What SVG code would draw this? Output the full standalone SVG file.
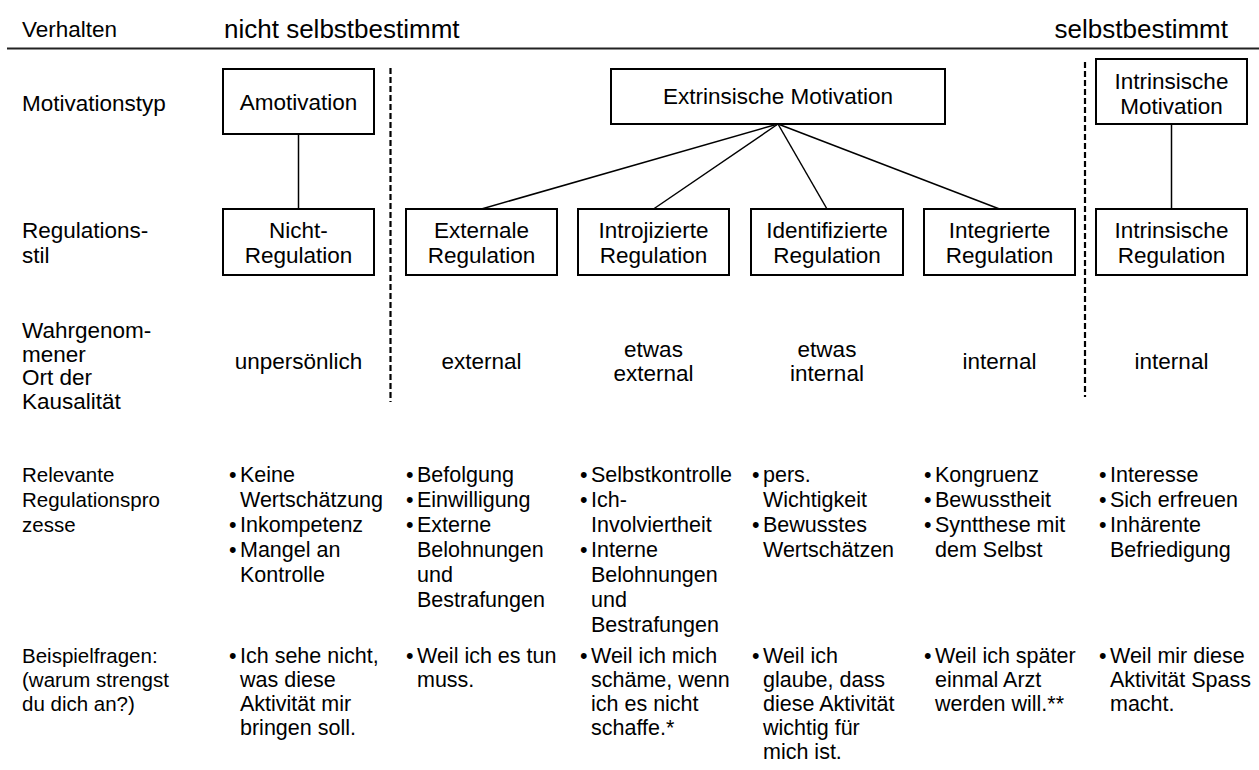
<svg xmlns="http://www.w3.org/2000/svg" width="1259" height="770" viewBox="0 0 1259 770">
<style>
text{font-family:"Liberation Sans",Arial,sans-serif;fill:#000}
.t{font-size:22.5px}
.s{font-size:21.5px}
.l{font-size:20.5px}
.h{font-size:26px}
.c{text-anchor:middle}
.e{text-anchor:end}
.box{fill:#fff;stroke:#000;stroke-width:2}
.ln{stroke:#000;stroke-width:1.5;fill:none}
.dash{stroke:#000;stroke-width:2.2;stroke-dasharray:6 3;fill:none}
</style>
<rect width="1259" height="770" fill="#fff"/>
<g id="header">
<text class="t" x="22" y="37">Verhalten</text>
<text class="h" x="224" y="38">nicht selbstbestimmt</text>
<text class="h e" x="1228" y="38">selbstbestimmt</text>
<line x1="7" y1="48.5" x2="1259" y2="48.5" stroke="#222" stroke-width="1.8"/>
</g>
<g id="dividers">
<line class="dash" x1="390.5" y1="68" x2="390.5" y2="402"/>
<line class="dash" x1="1085" y1="62" x2="1085" y2="397"/>
</g>
<g id="connectors">
<line class="ln" x1="298.5" y1="134" x2="298.5" y2="209"/>
<line class="ln" x1="778" y1="124" x2="481.5" y2="209"/>
<line class="ln" x1="778" y1="124" x2="653.5" y2="209"/>
<line class="ln" x1="778" y1="124" x2="827" y2="209"/>
<line class="ln" x1="778" y1="124" x2="999.5" y2="209"/>
<line class="ln" x1="1171.5" y1="124" x2="1171.5" y2="209"/>
</g>
<g id="label-motivationstyp"><text class="t" x="22" y="111">Motivationstyp</text></g>
<g id="label-regulationsstil"><text class="t"><tspan x="22" y="238">Regulations-</tspan><tspan x="22" y="263">stil</tspan></text></g>
<g id="label-ort"><text class="t"><tspan x="22" y="338">Wahrgenom-</tspan><tspan x="22" y="361.5">mener</tspan><tspan x="22" y="385">Ort der</tspan><tspan x="22" y="408.5">Kausalität</tspan></text></g>
<g id="label-prozesse"><text class="l"><tspan x="22" y="482">Relevante</tspan><tspan x="22" y="507">Regulationspro</tspan><tspan x="22" y="532">zesse</tspan></text></g>
<g id="label-beispiel"><text class="l"><tspan x="22" y="663">Beispielfragen:</tspan><tspan x="22" y="687">(warum strengst</tspan><tspan x="22" y="711">du dich an?)</tspan></text></g>

<g id="amotivation"><rect class="box" x="223" y="69" width="151" height="65"/><text class="t c" x="298.5" y="110">Amotivation</text></g>
<g id="extrinsische-motivation"><rect class="box" x="611" y="69" width="334" height="55"/><text class="t c" x="778" y="104">Extrinsische Motivation</text></g>
<g id="intrinsische-motivation"><rect class="box" x="1096" y="59" width="151" height="65"/><text class="t c"><tspan x="1171.5" y="88.5">Intrinsische</tspan><tspan x="1171.5" y="113.5">Motivation</tspan></text></g>

<g id="nicht-regulation"><rect class="box" x="223" y="209" width="151" height="66"/><text class="t c"><tspan x="298.5" y="238">Nicht-</tspan><tspan x="298.5" y="263">Regulation</tspan></text></g>
<g id="externale-regulation"><rect class="box" x="406" y="209" width="151" height="66"/><text class="t c"><tspan x="481.5" y="238">Externale</tspan><tspan x="481.5" y="263">Regulation</tspan></text></g>
<g id="introjizierte-regulation"><rect class="box" x="578" y="209" width="151" height="66"/><text class="t c"><tspan x="653.5" y="238">Introjizierte</tspan><tspan x="653.5" y="263">Regulation</tspan></text></g>
<g id="identifizierte-regulation"><rect class="box" x="751" y="209" width="152" height="66"/><text class="t c"><tspan x="827" y="238">Identifizierte</tspan><tspan x="827" y="263">Regulation</tspan></text></g>
<g id="integrierte-regulation"><rect class="box" x="924" y="209" width="151" height="66"/><text class="t c"><tspan x="999.5" y="238">Integrierte</tspan><tspan x="999.5" y="263">Regulation</tspan></text></g>
<g id="intrinsische-regulation"><rect class="box" x="1096" y="209" width="151" height="66"/><text class="t c"><tspan x="1171.5" y="238">Intrinsische</tspan><tspan x="1171.5" y="263">Regulation</tspan></text></g>

<g id="ort">
<text class="t c" x="298.5" y="369">unpersönlich</text>
<text class="t c" x="481.5" y="369">external</text>
<text class="t c"><tspan x="653.5" y="356.5">etwas</tspan><tspan x="653.5" y="381">external</tspan></text>
<text class="t c"><tspan x="827" y="356.5">etwas</tspan><tspan x="827" y="381">internal</tspan></text>
<text class="t c" x="999.5" y="369">internal</text>
<text class="t c" x="1171.5" y="369">internal</text>
</g>

<g id="prozesse">
<text class="s"><tspan x="229" y="482">•</tspan><tspan x="240">Keine</tspan><tspan x="240" y="507">Wertschätzung</tspan><tspan x="229" y="532">•</tspan><tspan x="240">Inkompetenz</tspan><tspan x="229" y="557">•</tspan><tspan x="240">Mangel an</tspan><tspan x="240" y="582">Kontrolle</tspan></text>
<text class="s"><tspan x="406" y="482">•</tspan><tspan x="417">Befolgung</tspan><tspan x="406" y="507">•</tspan><tspan x="417">Einwilligung</tspan><tspan x="406" y="532">•</tspan><tspan x="417">Externe</tspan><tspan x="417" y="557">Belohnungen</tspan><tspan x="417" y="582">und</tspan><tspan x="417" y="607">Bestrafungen</tspan></text>
<text class="s"><tspan x="580" y="482">•</tspan><tspan x="591">Selbstkontrolle</tspan><tspan x="580" y="507">•</tspan><tspan x="591">Ich-</tspan><tspan x="591" y="532">Involviertheit</tspan><tspan x="580" y="557">•</tspan><tspan x="591">Interne</tspan><tspan x="591" y="582">Belohnungen</tspan><tspan x="591" y="607">und</tspan><tspan x="591" y="632">Bestrafungen</tspan></text>
<text class="s"><tspan x="752" y="482">•</tspan><tspan x="763">pers.</tspan><tspan x="763" y="507">Wichtigkeit</tspan><tspan x="752" y="532">•</tspan><tspan x="763">Bewusstes</tspan><tspan x="763" y="557">Wertschätzen</tspan></text>
<text class="s"><tspan x="924" y="482">•</tspan><tspan x="935">Kongruenz</tspan><tspan x="924" y="507">•</tspan><tspan x="935">Bewusstheit</tspan><tspan x="924" y="532">•</tspan><tspan x="935">Syntthese mit</tspan><tspan x="935" y="557">dem Selbst</tspan></text>
<text class="s"><tspan x="1099" y="482">•</tspan><tspan x="1110">Interesse</tspan><tspan x="1099" y="507">•</tspan><tspan x="1110">Sich erfreuen</tspan><tspan x="1099" y="532">•</tspan><tspan x="1110">Inhärente</tspan><tspan x="1110" y="557">Befriedigung</tspan></text>
</g>

<g id="beispiele">
<text class="s"><tspan x="229" y="663">•</tspan><tspan x="240">Ich sehe nicht,</tspan><tspan x="240" y="687">was diese</tspan><tspan x="240" y="711">Aktivität mir</tspan><tspan x="240" y="735">bringen soll.</tspan></text>
<text class="s"><tspan x="406" y="663">•</tspan><tspan x="417">Weil ich es tun</tspan><tspan x="417" y="687">muss.</tspan></text>
<text class="s"><tspan x="580" y="663">•</tspan><tspan x="591">Weil ich mich</tspan><tspan x="591" y="687">schäme, wenn</tspan><tspan x="591" y="711">ich es nicht</tspan><tspan x="591" y="735">schaffe.*</tspan></text>
<text class="s"><tspan x="752" y="663">•</tspan><tspan x="763">Weil ich</tspan><tspan x="763" y="687">glaube, dass</tspan><tspan x="763" y="711">diese Aktivität</tspan><tspan x="763" y="735">wichtig für</tspan><tspan x="763" y="759">mich ist.</tspan></text>
<text class="s"><tspan x="924" y="663">•</tspan><tspan x="935">Weil ich später</tspan><tspan x="935" y="687">einmal Arzt</tspan><tspan x="935" y="711">werden will.**</tspan></text>
<text class="s"><tspan x="1099" y="663">•</tspan><tspan x="1110">Weil mir diese</tspan><tspan x="1110" y="687">Aktivität Spass</tspan><tspan x="1110" y="711">macht.</tspan></text>
</g>
</svg>
